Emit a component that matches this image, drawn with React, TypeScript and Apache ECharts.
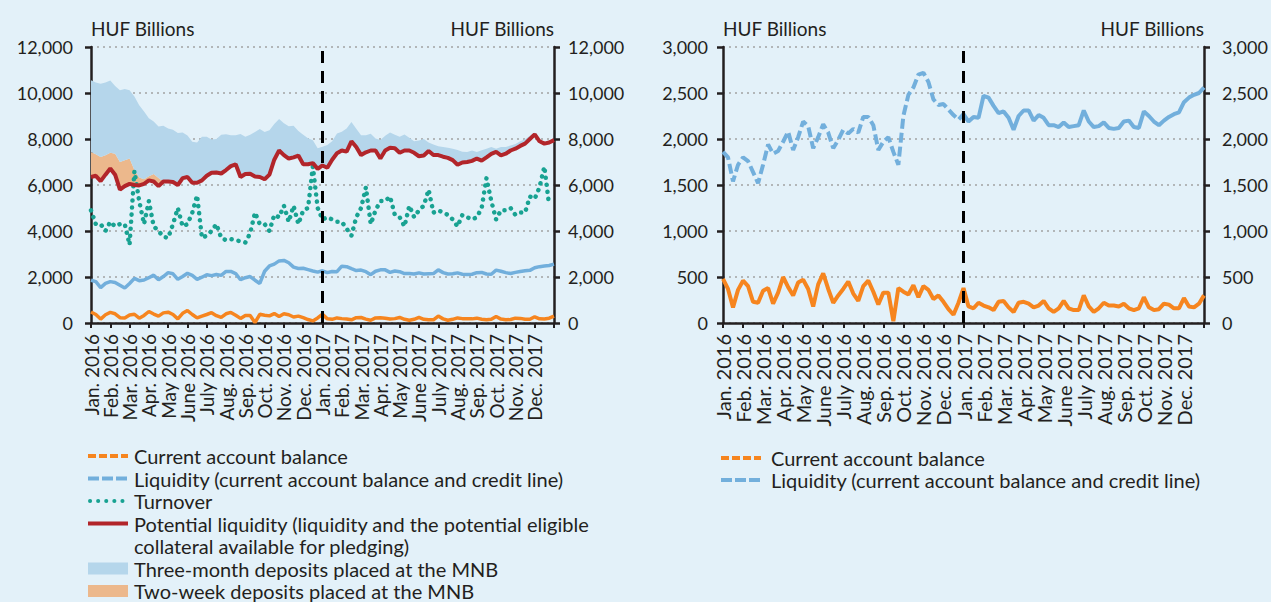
import React, { useEffect, useRef } from "react";
import * as echarts from "echarts";

// ---- Data (one point ≈ one week, 4 per month) ----
const monthLabels = [
  "Jan. 2016", "Feb. 2016", "Mar. 2016", "Apr. 2016", "May 2016", "June 2016",
  "July 2016", "Aug. 2016", "Sep. 2016", "Oct. 2016", "Nov. 2016", "Dec. 2016",
  "Jan. 2017", "Feb. 2017", "Mar. 2017", "Apr. 2017", "May 2017", "June 2017",
  "July 2017", "Aug. 2017", "Sep. 2017", "Oct. 2017", "Nov. 2017", "Dec. 2017",
];

const currentAccount = [
  480, 370, 170, 360, 460, 400, 230, 220, 350, 380, 210, 330, 500, 390, 300, 440,
  470, 370, 180, 420, 540, 370, 220, 300, 370, 450, 320, 240, 400, 460, 340, 200,
  330, 330, 20, 380, 340, 310, 410, 280, 400, 360, 260, 300, 230, 150, 90, 220,
  380, 180, 160, 220, 190, 170, 140, 230, 240, 170, 120, 220, 230, 210, 170, 190,
  240, 160, 120, 160, 240, 160, 140, 140, 300, 180, 120, 160, 220, 190, 190, 180,
  210, 160, 140, 160, 280, 170, 140, 150, 210, 200, 160, 160, 270, 180, 170, 210,
  300,
];

const liquidity = [
  1860, 1800, 1540, 1720, 1800, 1760, 1640, 1520, 1720, 1940, 1840, 1870, 1970, 2080, 1880, 2020,
  2190, 2140, 1900, 2020, 2160, 2070, 1900, 1990, 2100, 2060, 2110, 2070, 2240, 2240, 2150, 1880,
  1970, 2020, 1860, 1720, 2250, 2480, 2560, 2700, 2720, 2620, 2430, 2370, 2380, 2320, 2260, 2210,
  2270, 2190, 2240, 2230, 2470, 2450, 2360, 2280, 2300, 2230, 2100, 2250, 2310, 2310, 2200, 2260,
  2230, 2150, 2150, 2130, 2180, 2130, 2140, 2150, 2310, 2190, 2130, 2140, 2180, 2120, 2110, 2120,
  2190, 2200, 2130, 2120, 2300, 2250, 2190, 2150, 2200, 2240, 2270, 2290, 2400, 2450, 2480, 2500,
  2560,
];

const turnover = [
  4900, 4300, 4300, 4000, 4400, 4200, 4300, 4300, 3400, 6600, 5300, 4300, 5300, 4200, 4000, 3750,
  3700, 4300, 5000, 4200, 4300, 4800, 5550, 3700, 3800, 4000, 4300, 3700, 3600, 3650, 3600, 3550,
  3500, 3900, 4800, 4300, 4300, 4000, 4700, 4600, 5100, 4400, 5100, 4300, 4900, 5000, 6800, 5000,
  4500, 4600, 4500, 4400, 4400, 4100, 3800, 4600, 5000, 5900, 4300, 4900, 5300, 5300, 5500, 4700,
  4600, 4200, 5100, 4600, 4900, 5100, 5800, 4800, 4900, 4800, 4700, 4500, 4200, 4700, 4600, 4500,
  4600, 5000, 6300, 5300, 4500, 4900, 4900, 5000, 4700, 4800, 4800, 5500, 5400, 5900, 6800, 5100,
];

const potentialLiquidity = [
  6350, 6400, 6170, 6450, 6720, 6450, 5800, 5950, 6050, 6000, 5980, 6050, 6200, 6150, 5950, 6150,
  6150, 6130, 6000, 6300, 6350, 6100, 6100, 6200, 6400, 6530, 6540, 6500, 6650, 6820, 6900, 6350,
  6480, 6490, 6370, 6350, 6250, 6450, 7100, 7500, 7300, 7150, 7200, 7280, 6900, 6900, 6950, 6700,
  6850, 6750, 7100, 7380, 7500, 7450, 7900, 7650, 7300, 7420, 7500, 7500, 7150, 7500, 7620, 7600,
  7400, 7500, 7500, 7400, 7250, 7280, 7480, 7300, 7300, 7230, 7180, 7080, 6880, 6980, 7000, 7050,
  7150, 7060, 7200, 7350, 7440, 7290, 7360, 7500, 7580, 7700, 7800, 8000, 8200, 7900, 7800, 7850,
  7950,
];

const twoWeekDeposits = [
  1080, 940, 1050, 840, 680, 910, 1200, 1130, 1100, 650, 350, 200, 180, 330, 350, 0,
  0, 0, 0, 0, 0, 0, 0, 0, 0, 0, 0, 0, 0, 0, 0, 0,
  0, 0, 0, 0, 0, 0, 0, 0, 0, 0, 0, 0, 0, 0, 0, 0,
  0, 0, 0, 0, 0, 0, 0, 0, 0, 0, 0, 0, 0, 0, 0, 0,
  0, 0, 0, 0, 0, 0, 0, 0, 0, 0, 0, 0, 0, 0, 0, 0,
  0, 0, 0, 0, 0, 0, 0, 0, 0, 0, 0, 0, 0, 0, 0, 0,
  0,
];

const threeMonthDeposits = [
  3120, 3120, 3180, 3170, 3140, 2940, 3120, 3090, 2970, 3200, 3140, 2950, 2520, 2280, 2240, 2430,
  2310, 2270, 2260, 1980, 1800, 1780, 1750, 1900, 1700, 1450, 1460, 1680, 1560, 1340, 1260, 1870,
  1620, 1690, 1930, 2090, 2050, 1930, 1550, 1370, 1380, 1400, 1380, 1070, 1280, 1130, 1000, 900,
  810, 990, 800, 860, 810, 1010, 840, 800, 860, 740, 730, 520, 810, 640, 660, 580,
  700, 700, 550, 500, 680, 720, 370, 460, 380, 420, 440, 500, 640, 470, 440, 450,
  290, 450, 380, 300, 140, 360, 290, 220, 200, 200, 190, 140, 80, 0, 0, 0,
  0,
];

// weekly categories: four per month, plus the closing point at the start of Jan. 2018
const weekCategories = [
  ...monthLabels.flatMap((m) => [1, 2, 3, 4].map((w) => `${m} w${w}`)),
  "Jan. 2018 w1",
];
const breakCategory = "Jan. 2017 w1";

// ---- Styles ----
const INK = "#231f20";
const BG = "#e3f1f9";
const ORANGE = "#f6851f";
const BLUE = "#72afdc";
const TEAL = "#18a292";
const RED = "#b2252a";
const AREA_BLUE = "#b5d6eb";
const AREA_ORANGE = "#ecb88c";
const FONT = "Lato";
const FS = 20; // legend text
const FS_NAME = 19;
const FS_TICK = 18;

const fmt = (v: number) => v.toLocaleString("en-US");

function xAxis(gridIndex: number, fontSize: number) {
  return {
    type: "category",
    gridIndex,
    data: weekCategories,
    boundaryGap: false,
    axisLine: { show: true, onZero: false, lineStyle: { color: INK, width: 2.5 } },
    axisTick: { show: true, interval: 3, length: 5, lineStyle: { color: INK, width: 2 } },
    axisLabel: {
      rotate: 90,
      interval: 3,
      margin: 11,
      showMinLabel: true,
      showMaxLabel: true,
      hideOverlap: false,
      fontSize,
      fontFamily: FONT,
      color: INK,
      formatter: (_v: string, i: number) => (i % 4 === 0 ? monthLabels[i / 4] ?? "" : ""),
    },
    splitLine: { show: false },
  };
}

function yAxis(gridIndex: number, max: number, interval: number, position: string, margin: number, grid: boolean) {
  return {
    type: "value",
    gridIndex,
    min: 0,
    max,
    interval,
    position,
    name: "HUF Billions",
    nameLocation: "end",
    nameGap: 9,
    nameTextStyle: {
      fontSize: FS_NAME,
      fontFamily: FONT,
      color: INK,
      align: position === "left" ? "left" : "right",
      verticalAlign: "bottom",
    },
    axisLine: { show: true, lineStyle: { color: INK, width: 2.5 } },
    axisTick: { show: true, length: 6, lineStyle: { color: INK, width: 2.5 } },
    axisLabel: { margin, fontSize: FS_TICK, fontFamily: FONT, color: INK, formatter: fmt },
    splitLine: {
      show: grid,
      lineStyle: { color: "#a3a3a3", width: 1.5, type: [2, 4] },
    },
  };
}

const breakLine = {
  silent: true,
  symbol: ["none", "none"],
  label: { show: false },
  lineStyle: { color: "#000", width: 3, type: [12, 8] },
  data: [{ xAxis: breakCategory }],
};

function legendLine(x: number, y: number, color: string, dash: number[] | null, cap = "butt") {
  return {
    type: "line",
    shape: { x1: x, y1: y, x2: x + 40, y2: y },
    style: { stroke: color, lineWidth: 4, lineDash: dash || undefined, lineCap: cap },
  };
}
function legendRect(x: number, y: number, color: string) {
  return { type: "rect", shape: { x, y: y - 6, width: 40, height: 12 }, style: { fill: color } };
}
function legendText(x: number, y: number, text: string) {
  return {
    type: "text",
    x,
    y,
    style: { text, fill: INK, fontSize: FS, fontFamily: FONT, verticalAlign: "middle", align: "left" },
  };
}

export default function App() {
  const ref = useRef<HTMLDivElement>(null);

  useEffect(() => {
    if (!ref.current) return;
    const chart = echarts.init(ref.current, undefined, { renderer: "svg" });

    const L = 88; // left legend symbol x
    const R = 721; // right legend symbol x
    const rowY = [456, 478.5, 501, 523.5, 546, 568.5, 591];

    const liquidity2016 = liquidity.map((v, i) => (i <= 48 ? v : null));
    const liquidity2017 = liquidity.map((v, i) => (i >= 48 ? v : null));

    const option: any = {
      animation: false,
      backgroundColor: BG,
      textStyle: { fontFamily: FONT },
      grid: [
        { left: 91, top: 47, width: 463, height: 276, containLabel: false },
        { left: 723, top: 47, width: 481, height: 276, containLabel: false },
      ],
      xAxis: [xAxis(0, 19), xAxis(1, 20)],
      yAxis: [
        yAxis(0, 12000, 2000, "left", 18, true),
        yAxis(0, 12000, 2000, "right", 14, false),
        yAxis(1, 3000, 500, "left", 15, true),
        yAxis(1, 3000, 500, "right", 18, false),
      ],
      series: [
        // deposits stacked on top of potential liquidity
        {
          name: "base",
          type: "line",
          xAxisIndex: 0,
          yAxisIndex: 0,
          stack: "dep",
          data: potentialLiquidity,
          symbol: "none",
          lineStyle: { width: 0, opacity: 0 },
          silent: true,
        },
        {
          name: "Two-week deposits placed at the MNB",
          type: "line",
          xAxisIndex: 0,
          yAxisIndex: 0,
          stack: "dep",
          data: twoWeekDeposits,
          symbol: "none",
          lineStyle: { width: 0, opacity: 0 },
          areaStyle: { color: AREA_ORANGE, opacity: 1 },
        },
        {
          name: "Three-month deposits placed at the MNB",
          type: "line",
          xAxisIndex: 0,
          yAxisIndex: 0,
          stack: "dep",
          data: threeMonthDeposits,
          symbol: "none",
          lineStyle: { width: 0, opacity: 0 },
          areaStyle: { color: AREA_BLUE, opacity: 1 },
          markLine: breakLine,
        },
        {
          name: "Turnover",
          type: "line",
          xAxisIndex: 0,
          yAxisIndex: 0,
          data: turnover,
          symbol: "none",
          lineStyle: { color: TEAL, width: 4.5, type: [0.1, 7], cap: "round", join: "round" },
        },
        {
          name: "Current account balance",
          type: "line",
          xAxisIndex: 0,
          yAxisIndex: 0,
          data: currentAccount,
          symbol: "none",
          lineStyle: { color: ORANGE, width: 3.5 },
        },
        {
          name: "Liquidity (current account balance and credit line)",
          type: "line",
          xAxisIndex: 0,
          yAxisIndex: 0,
          data: liquidity,
          symbol: "none",
          lineStyle: { color: BLUE, width: 3.5 },
        },
        {
          name: "Potential liquidity",
          type: "line",
          xAxisIndex: 0,
          yAxisIndex: 0,
          data: potentialLiquidity,
          symbol: "none",
          lineStyle: { color: RED, width: 4 },
        },
        // right panel
        {
          name: "Current account balance (right)",
          type: "line",
          xAxisIndex: 1,
          yAxisIndex: 2,
          data: currentAccount,
          symbol: "none",
          lineStyle: { color: ORANGE, width: 4 },
          markLine: breakLine,
        },
        {
          name: "Liquidity 2016 (right)",
          type: "line",
          xAxisIndex: 1,
          yAxisIndex: 2,
          data: liquidity2016,
          symbol: "none",
          lineStyle: { color: BLUE, width: 4, type: [10, 4] },
        },
        {
          name: "Liquidity 2017 (right)",
          type: "line",
          xAxisIndex: 1,
          yAxisIndex: 2,
          data: liquidity2017,
          symbol: "none",
          lineStyle: { color: BLUE, width: 4 },
        },
      ],
      graphic: [
        legendLine(L, rowY[0], ORANGE, [8, 3]),
        legendText(L + 46, rowY[0], "Current account balance"),
        legendLine(L, rowY[1], BLUE, [11, 3]),
        legendText(L + 46, rowY[1], "Liquidity (current account balance and credit line)"),
        legendLine(L + 2, rowY[2], TEAL, [0.1, 8], "round"),
        legendText(L + 46, rowY[2], "Turnover"),
        legendLine(L, rowY[3], RED, null),
        legendText(L + 46, rowY[3], "Potential liquidity (liquidity and the potential eligible"),
        legendText(L + 46, rowY[4], "collateral available for pledging)"),
        legendRect(L, rowY[5], AREA_BLUE),
        legendText(L + 46, rowY[5], "Three-month deposits placed at the MNB"),
        legendRect(L, rowY[6], AREA_ORANGE),
        legendText(L + 46, rowY[6], "Two-week deposits placed at the MNB"),

        legendLine(R, 458, ORANGE, [8, 3]),
        legendText(R + 50, 458, "Current account balance"),
        legendLine(R, 480, BLUE, [11, 3]),
        legendText(R + 50, 480, "Liquidity (current account balance and credit line)"),
      ],
    };

    chart.setOption(option);
    return () => chart.dispose();
  }, []);

  return (
    <div
      ref={ref}
      style={{ position: "absolute", left: 0, top: 0, width: 1271, height: 602 }}
    />
  );
}
